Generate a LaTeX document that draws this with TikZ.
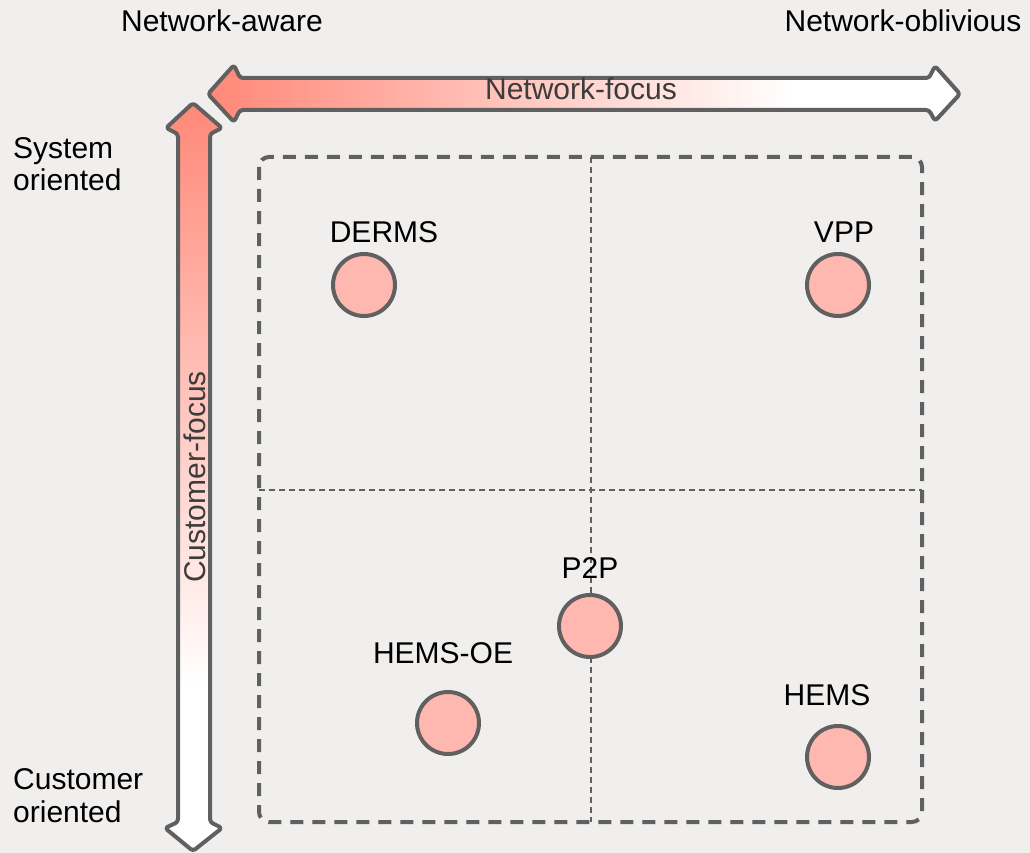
\documentclass[tikz,border=0pt]{standalone}
\usepackage{fontspec}
\setmainfont{Liberation Sans}
\usepackage{tikz}
\usetikzlibrary{positioning,shapes,backgrounds}
\definecolor{bggray}{RGB}{240,239,237}
\definecolor{edgegray}{RGB}{96,96,96}
\definecolor{arrowred}{RGB}{255,136,120}
\definecolor{dotfill}{RGB}{255,184,176}
\definecolor{focustext}{RGB}{60,60,60}
\pgfdeclarehorizontalshading{netshade}{100bp}{color(0bp)=(arrowred); color(25bp)=(arrowred); color(64bp)=(white); color(100bp)=(white)}
\pgfdeclareverticalshading{custshade}{100bp}{color(0bp)=(white); color(36bp)=(white); color(75bp)=(arrowred); color(100bp)=(arrowred)}
\tikzstyle{bigarrow}=[draw=edgegray,line width=4,rounded corners=3,line join=round]
\tikzstyle{quad}=[draw=edgegray,line width=4,dash pattern=on 13 off 9,rounded corners=10]
\tikzstyle{split}=[draw=edgegray,line width=1.5,dash pattern=on 6 off 4]
\tikzstyle{approach}=[circle,draw=edgegray,fill=dotfill,line width=4,minimum size=62,inner sep=0]
\tikzstyle{lbl}=[font=\fontsize{30}{32.5}\selectfont,text=black,inner sep=0,anchor=base]

\begin{document}
\begin{tikzpicture}[x=1pt,y=-1pt]

	\fill[bggray] (0,0) rectangle (1030,853);
	\useasboundingbox (0,0) rectangle (1030,853);

	%axis arrows
	\shadedraw[bigarrow,shading=netshade]
	(208,94) -- (234,65) -- (240,78) -- (929,78) -- (935,66)
	-- (960,94) -- (935,121) -- (929,110) -- (240,110) -- (234,122) -- cycle;
	\shadedraw[bigarrow,shading=custshade]
	(193,103) -- (222,128) -- (210,134) -- (210,822) -- (222,828)
	-- (193,851) -- (165,828) -- (178,822) -- (178,134) -- (166,128) -- cycle;

	\node[lbl,text=focustext] (netfocus) at (581,100) {Network-focus};
	\node[lbl,text=focustext,rotate=90] (custfocus) at (205,477) {Customer-focus};

	%quadrants
	\draw[quad] (259,157) rectangle (922,822);
	\draw[split] (591,157) -- (591,822);
	\draw[split] (259,490) -- (922,490);

	%corner labels
	\node[lbl] (aware) at (222,32) {Network-aware};
	\node[lbl] (oblivious) at (903,32) {Network-oblivious};
	\node[lbl,align=left,anchor=base west] (system) at (13,191) {System\\oriented};
	\node[lbl,align=left,anchor=base west] (customer) at (13,822) {Customer\\oriented};

	%approaches
	\node[approach] (derms) at (364,285) {};
	\node[approach] (vpp) at (838,285) {};
	\node[approach] (p2p) at (590,626) {};
	\node[approach] (hemsoe) at (448,723) {};
	\node[approach] (hems) at (838,757) {};

	\node[lbl] (dermslbl) at (384,242) {DERMS};
	\node[lbl] (vpplbl) at (844,242) {VPP};
	\node[lbl] (p2plbl) at (590,578) {P2P};
	\node[lbl] (hemsoelbl) at (443,663) {HEMS-OE};
	\node[lbl] (hemslbl) at (827,705) {HEMS};
\end{tikzpicture}
\end{document}
